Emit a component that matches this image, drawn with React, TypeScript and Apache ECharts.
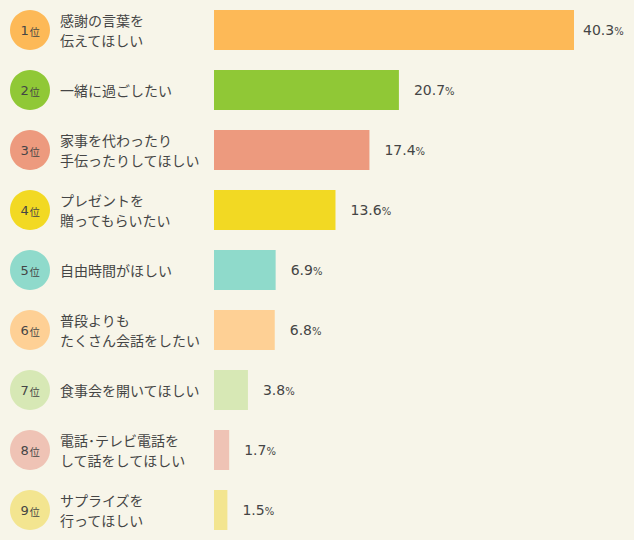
import React, { useEffect, useRef } from 'react';
import * as echarts from 'echarts';

// 項目（上から順位順）
const categories = [
  '感謝の言葉を\n伝えてほしい',
  '一緒に過ごしたい',
  '家事を代わったり\n手伝ったりしてほしい',
  'プレゼントを\n贈ってもらいたい',
  '自由時間がほしい',
  '普段よりも\nたくさん会話をしたい',
  '食事会を開いてほしい',
  '電話･テレビ電話を\nして話をしてほしい',
  'サプライズを\n行ってほしい',
];
const ranks = [1, 2, 3, 4, 5, 6, 7, 8, 9];
const values = [40.3, 20.7, 17.4, 13.6, 6.9, 6.8, 3.8, 1.7, 1.5];
const colors = [
  '#fdb957',
  '#90c836',
  '#ed9a7e',
  '#f2d923',
  '#8fdacb',
  '#fed095',
  '#d7e8b5',
  '#efc3b5',
  '#f3e590',
];

const FONT = '"Noto Sans CJK JP", "Noto Sans", sans-serif';
const NUM_FONT = '"DejaVu Sans", sans-serif';
const TEXT = '#454545';

const App: React.FC = () => {
  const chartRef = useRef<HTMLDivElement>(null);

  useEffect(() => {
    document.body.style.margin = '0';
    if (!chartRef.current) return;
    const chart = echarts.init(chartRef.current, undefined, { renderer: 'svg' });

    const option: echarts.EChartsOption = {
      animation: false,
      backgroundColor: '#f7f5e9',
      textStyle: { fontFamily: FONT },
      grid: [
        { left: 214, right: 60, top: 0, bottom: 0 },
        { left: 10, width: 40, top: 0, bottom: 0 },
      ],
      xAxis: [
        { type: 'value', gridIndex: 0, min: 0, max: 40.3, show: false },
        { type: 'value', gridIndex: 1, min: 0, max: 1, show: false },
      ],
      yAxis: [
        {
          type: 'category',
          gridIndex: 0,
          inverse: true,
          data: categories,
          axisLine: { show: false },
          axisTick: { show: false },
          splitLine: { show: false },
          axisLabel: {
            align: 'left',
            margin: 154,
            color: TEXT,
            fontSize: 14,
            lineHeight: 20,
            fontFamily: FONT,
          },
        },
        {
          type: 'category',
          gridIndex: 1,
          inverse: true,
          data: categories,
          show: false,
        },
      ],
      series: [
        {
          type: 'bar',
          xAxisIndex: 0,
          yAxisIndex: 0,
          barWidth: 40,
          data: values.map((v, i) => ({
            value: v,
            itemStyle: { color: colors[i] },
            label: { distance: i === 0 ? 9 : 15 },
          })),
          label: {
            show: true,
            position: 'right',
            formatter: (p: any) => `{n|${p.value}}{u|%}`,
            rich: {
              n: { fontSize: 14, color: TEXT, fontFamily: NUM_FONT },
              u: { fontSize: 10, color: TEXT, fontFamily: NUM_FONT, padding: [2, 0, 0, 0] },
            },
          },
        },
        {
          type: 'scatter',
          xAxisIndex: 1,
          yAxisIndex: 1,
          symbolSize: 40,
          data: ranks.map((r, i) => ({
            value: [0.5, i],
            itemStyle: { color: colors[i], opacity: 1 },
          })),
          label: {
            show: true,
            position: 'inside',
            formatter: (p: any) => `{n|${ranks[p.dataIndex]}}{u|位}`,
            rich: {
              n: { fontSize: 13, color: TEXT, fontFamily: NUM_FONT },
              u: { fontSize: 10, color: TEXT, fontFamily: FONT, padding: [2, 0, 0, 1] },
            },
          },
        },
      ],
    };

    chart.setOption(option);
    return () => chart.dispose();
  }, []);

  return <div ref={chartRef} style={{ width: 634, height: 540 }} />;
};

export default App;
